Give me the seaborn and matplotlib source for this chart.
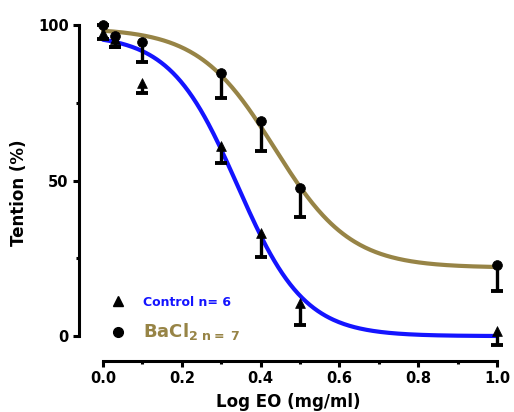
import matplotlib
matplotlib.use("Agg")
import matplotlib.pyplot as plt
import seaborn as sns
import numpy as np
import pandas as pd

# dose (log mg/ml) and mean tension (%), with lower error (SEM)
doses = [0.0, 0.03, 0.1, 0.3, 0.4, 0.5, 1.0]
control_mean = [97.5, 95.5, 81.5, 61.0, 33.0, 10.5, 1.5]
control_err = [2.0, 2.5, 3.5, 5.5, 7.5, 7.0, 4.5]
bacl2_mean = [100.0, 96.5, 94.5, 84.7, 69.1, 47.7, 23.0]
bacl2_err = [0.0, 3.5, 6.5, 8.1, 9.6, 9.3, 8.5]

# 4-parameter logistic fits: bottom, top, logEC50, hill slope
control_fit = (0.0, 97.0, 0.341, 5.1)
bacl2_fit = (22.0, 99.0, 0.435, 4.5)

BLUE = "#1414ff"
OLIVE = "#978446"

sns.set_style("white")
plt.rcParams["font.family"] = ["DejaVu Sans"]
plt.rcParams["font.weight"] = "bold"
plt.rcParams["mathtext.fontset"] = "dejavusans"
for k in ["text.color", "axes.labelcolor", "xtick.color", "ytick.color"]:
    plt.rcParams[k] = "black"


def logistic(x, p):
    bottom, top, ec50, hill = p
    return bottom + (top - bottom) / (1 + 10 ** ((ec50 - x) * -hill))


xs = np.linspace(0, 1, 300)
curves = pd.concat([
    pd.DataFrame({"x": xs, "y": logistic(xs, control_fit), "g": "Control"}),
    pd.DataFrame({"x": xs, "y": logistic(xs, bacl2_fit), "g": "BaCl2"}),
])

fig = plt.figure(figsize=(5.14, 4.12), dpi=100)
ax = fig.add_axes([0.1537, 0.1238, 0.8132, 0.8155])

sns.lineplot(data=curves, x="x", y="y", hue="g", palette={"Control": BLUE, "BaCl2": OLIVE},
             linewidth=3.0, legend=False, ax=ax, zorder=2)

for mean, err, mk in [(control_mean, control_err, "^"), (bacl2_mean, bacl2_err, "o")]:
    low = np.array(mean) - np.array(err)
    ax.errorbar(doses, mean, yerr=[err, np.zeros(len(err))], fmt="none", ecolor="black",
                elinewidth=2.4, capsize=0, clip_on=False, zorder=3)
    ax.plot(doses, low, linestyle="none", marker="_", markersize=9, markeredgewidth=2.8,
            color="black", clip_on=False, zorder=3)
    sns.scatterplot(x=doses, y=mean, marker=mk, s=50, color="black", edgecolor="black",
                    linewidth=0.5, ax=ax, clip_on=False, zorder=4)

ax.set_xlim(-0.061, 1.0)
ax.set_ylim(-8.0, 100)
ax.spines["top"].set_visible(False)
ax.spines["right"].set_visible(False)
for s in ["left", "bottom"]:
    ax.spines[s].set_linewidth(2.2)
    ax.spines[s].set_color("black")
ax.spines["bottom"].set_bounds(0, 1)
ax.spines["left"].set_bounds(0, 100)

ax.set_xticks([0.0, 0.2, 0.4, 0.6, 0.8, 1.0])
ax.set_xticklabels(["0.0", "0.2", "0.4", "0.6", "0.8", "1.0"])
ax.set_xticks([0.1, 0.3, 0.5, 0.7, 0.9], minor=True)
ax.set_yticks([0, 50, 100])
ax.set_yticks([25, 75], minor=True)
ax.tick_params(which="major", direction="out", length=4.5, width=2.2, labelsize=10.5, pad=3,
               bottom=True, left=True)
ax.tick_params(which="minor", direction="out", length=2.5, width=2.2, bottom=True, left=True)

ax.set_xlabel("Log EO (mg/ml)", fontsize=12, fontweight="bold", labelpad=5)
ax.set_ylabel("Tention (%)", fontsize=12, fontweight="bold", labelpad=7)

h1 = plt.Line2D([], [], linestyle="none", marker="^", markersize=7, color="black")
h2 = plt.Line2D([], [], linestyle="none", marker="o", markersize=7, color="black")
leg = ax.legend([h1, h2], ["Control n= 6", r"$\mathbf{BaCl_{2\ n=\ 7}}$"],
                loc="lower left", bbox_to_anchor=(0.045, 0.035), frameon=False,
                handletextpad=1.0, labelspacing=0.95, borderaxespad=0.2,
                labelcolor=[BLUE, OLIVE], prop={"weight": "bold", "size": 9})
leg.get_texts()[1].set_fontsize(13)

fig.savefig("out.png", dpi=100)
